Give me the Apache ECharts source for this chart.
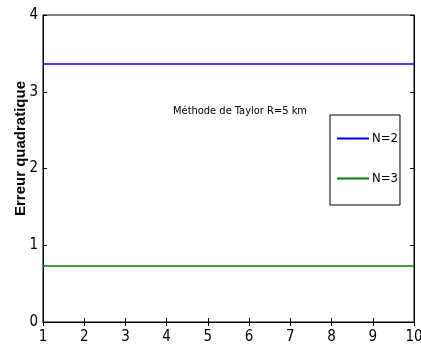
<!DOCTYPE html>
<html>
<head>
<meta charset="utf-8">
<script src="https://cdn.jsdelivr.net/npm/echarts@6/dist/echarts.min.js"></script>
<style>
  html, body { margin: 0; padding: 0; background: #fff; }
  #chart { width: 421px; height: 363px; }
</style>
</head>
<body>
<div id="chart"></div>
<script>
const xValues = [1, 2, 3, 4, 5, 6, 7, 8, 9, 10];
const erreurN2 = [3.36, 3.36, 3.36, 3.36, 3.36, 3.36, 3.36, 3.36, 3.36, 3.36];
const erreurN3 = [0.73, 0.73, 0.73, 0.73, 0.73, 0.73, 0.73, 0.73, 0.73, 0.73];
const seriesNames = ['N=2', 'N=3'];

const narrow = '"DejaVu Sans Condensed", "Liberation Sans Narrow", "Liberation Sans", sans-serif';

const myChart = echarts.init(document.getElementById('chart'));

const tickStyle = { inside: true, length: 4, lineStyle: { color: '#000', width: 1 } };

const option = {
  animation: false,
  backgroundColor: '#fff',
  title: {
    text: 'Méthode de Taylor R=5 km',
    left: 168,
    top: 101,
    textStyle: { fontFamily: narrow, fontSize: 11, fontWeight: 'normal', color: '#000' }
  },
  legend: {
    orient: 'vertical',
    left: 330,
    top: 115,
    padding: [17, 2, 20, 7],
    icon: 'rect',
    itemWidth: 32,
    itemHeight: 2,
    itemGap: 27,
    borderColor: '#000',
    borderWidth: 1,
    backgroundColor: '#fff',
    textStyle: { fontFamily: narrow, fontSize: 13, color: '#000', padding: [0, 0, 0, -2] },
    data: seriesNames
  },
  grid: {
    left: 43, right: 7, top: 15, bottom: 41,
    outerBoundsMode: 'none',
    show: true, borderColor: '#000', borderWidth: 1
  },
  xAxis: [
    {
      type: 'value', min: 1, max: 10, interval: 1,
      axisLine: { lineStyle: { color: '#000' } },
      axisTick: tickStyle,
      splitLine: { show: false },
      axisLabel: { color: '#000', fontFamily: narrow, fontSize: 15, margin: 8 }
    },
    {
      type: 'value', min: 1, max: 10, interval: 1, position: 'top',
      axisLine: { lineStyle: { color: '#000' } },
      axisTick: tickStyle,
      splitLine: { show: false },
      axisLabel: { show: false }
    }
  ],
  yAxis: [
    {
      type: 'value', min: 0, max: 4, interval: 1,
      name: 'Erreur quadratique',
      nameLocation: 'middle',
      nameGap: 15,
      nameMoveOverlap: false,
      nameTextStyle: { fontFamily: '"Liberation Sans", Arial, sans-serif', fontSize: 15, fontWeight: 'bold', color: '#000', padding: [0, 0, 0, 40] },
      axisLine: { lineStyle: { color: '#000' } },
      axisTick: tickStyle,
      splitLine: { show: false },
      axisLabel: { color: '#000', fontFamily: narrow, fontSize: 15, margin: 5 }
    },
    {
      type: 'value', min: 0, max: 4, interval: 1, position: 'right',
      axisLine: { lineStyle: { color: '#000' } },
      axisTick: tickStyle,
      splitLine: { show: false },
      axisLabel: { show: false }
    }
  ],
  series: [
    {
      name: seriesNames[0],
      type: 'line',
      symbol: 'none',
      data: xValues.map((x, i) => [x, erreurN2[i]]),
      lineStyle: { color: '#0000ff', width: 1.5 },
      itemStyle: { color: '#0000ff' }
    },
    {
      name: seriesNames[1],
      type: 'line',
      symbol: 'none',
      data: xValues.map((x, i) => [x, erreurN3[i]]),
      lineStyle: { color: '#008000', width: 1.5 },
      itemStyle: { color: '#008000' }
    }
  ]
};

myChart.setOption(option);
</script>
</body>
</html>
